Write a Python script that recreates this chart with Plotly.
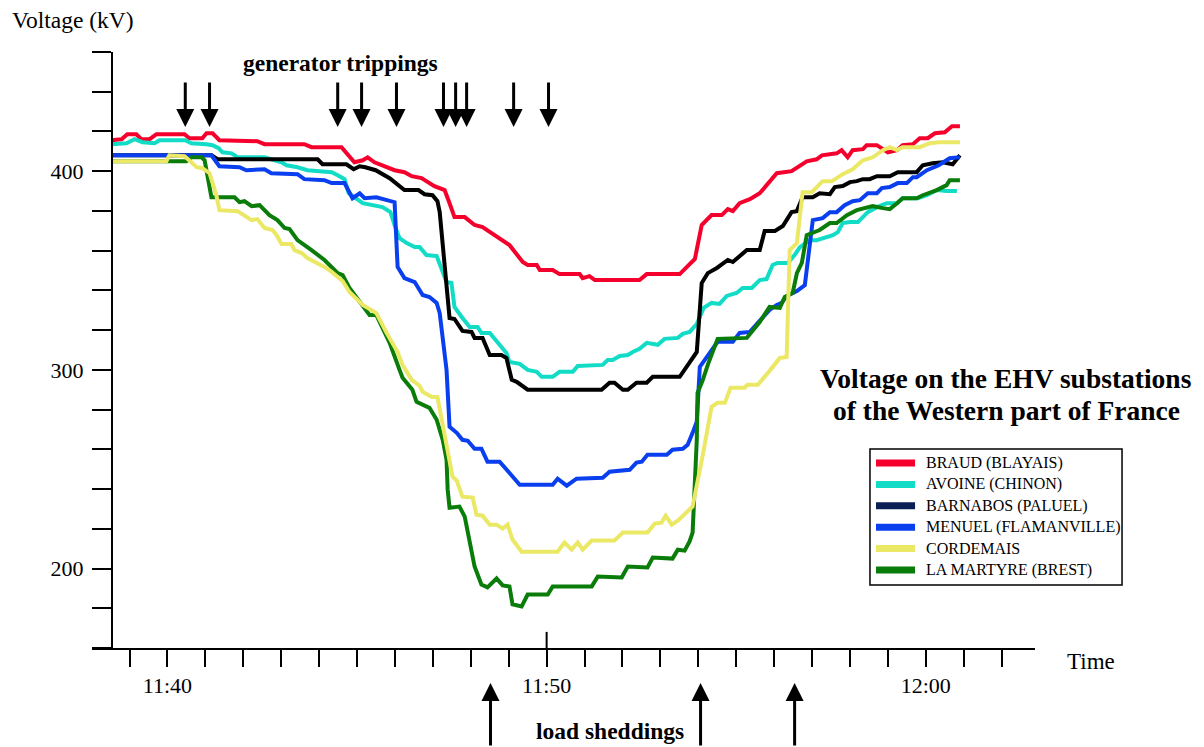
import plotly.graph_objects as go

# time in minutes after 11:40, voltage in kV
t_braud = [-1.48,-1.21,-1.06,-0.82,-0.69,-0.47,-0.29,0.45,0.58,0.92,1.03,1.19,1.37,2.37,2.56,3.61,3.80,4.59,4.93,5.15,5.28,5.46,5.99,6.25,6.44,6.70,7.04,7.31,7.44,7.57,7.84,8.10,8.31,8.76,9.02,9.37,9.50,9.74,9.82,10.16,10.34,10.87,10.95,11.13,11.27,12.45,12.64,13.51,13.91,14.09,14.35,14.62,14.78,14.91,15.09,15.36,15.62,16.07,16.46,16.86,17.12,17.26,17.65,17.78,17.94,18.07,18.34,18.44,18.71,19.00,19.24,19.39,19.66,19.84,20.05,20.24,20.50,20.69,20.90]
v_braud = [415.6,416.1,418.6,418.6,416.1,416.1,418.6,418.6,416.6,416.6,419.1,419.1,415.6,415.1,413.6,413.6,412.1,412.1,404.5,405.5,407.0,404.5,400.5,399.5,397.5,396.5,392.5,390.5,383.9,376.9,376.9,372.9,371.9,365.8,362.8,354.3,352.8,352.8,350.3,350.3,348.2,348.2,346.2,347.2,345.2,345.2,348.2,348.2,355.8,372.9,377.9,377.9,380.9,379.9,383.9,385.9,388.9,399.0,400.0,405.0,406.0,408.0,409.0,410.6,407.0,410.6,411.1,413.1,413.1,409.5,410.6,413.1,413.6,416.6,416.6,419.1,419.6,422.6,422.6]

t_avoine = [-1.48,-1.08,-0.87,-0.66,-0.34,-0.21,0.47,0.63,1.03,1.19,1.35,1.45,1.69,1.85,2.56,3.01,3.14,3.43,3.69,4.33,4.49,4.67,4.78,5.15,5.67,5.88,5.99,6.12,6.31,6.52,6.65,6.83,7.10,7.23,7.36,7.49,7.57,7.76,7.97,8.18,8.28,8.50,8.76,8.94,9.02,9.29,9.50,9.74,9.87,10.16,10.34,10.69,10.82,11.48,11.61,11.74,11.93,12.14,12.27,12.45,12.64,12.93,13.11,13.46,13.59,13.77,13.96,14.14,14.35,14.56,14.75,15.01,15.17,15.41,15.62,15.80,15.96,16.09,16.36,16.54,16.68,16.94,17.12,17.34,17.55,17.68,17.81,18.00,18.21,18.47,18.71,18.97,19.24,19.39,19.79,20.03,20.29,20.55,20.82]
v_avoine = [413.6,414.1,416.1,414.6,414.1,415.6,415.6,414.1,413.6,413.1,411.6,409.5,409.0,407.0,407.0,404.5,403.0,402.0,400.5,399.5,398.0,396.0,388.9,383.9,381.9,379.4,372.9,366.3,363.8,361.8,361.8,357.8,357.3,350.3,344.2,343.7,331.7,326.6,321.6,321.6,318.6,318.6,312.6,308.5,304.0,303.0,300.0,299.0,296.5,296.5,299.0,299.0,302.0,302.5,305.0,305.0,307.0,307.5,309.0,310.6,313.6,312.6,315.6,316.1,318.1,319.1,323.1,331.2,333.7,333.2,337.2,338.7,341.2,341.2,345.2,345.7,352.8,353.8,353.8,357.8,361.8,365.3,365.3,366.8,367.8,369.3,373.9,374.4,374.4,379.4,381.9,383.9,383.9,386.4,386.4,387.9,390.5,390.0,390.0]

t_barnabos = [-1.48,1.16,1.32,3.96,4.09,4.72,4.91,5.07,5.22,5.49,5.86,6.25,6.62,6.78,6.99,7.12,7.18,7.31,7.44,7.57,7.78,8.02,8.10,8.31,8.50,8.81,8.94,9.08,9.21,9.50,11.45,11.66,11.79,12.01,12.14,12.37,12.64,12.80,13.51,13.96,14.09,14.25,14.49,14.78,14.91,15.28,15.62,15.75,16.02,16.23,16.46,16.60,16.75,17.02,17.20,17.47,17.60,17.81,18.00,18.18,18.34,18.52,18.71,19.05,19.26,19.76,19.92,20.18,20.45,20.71,20.90]
v_barnabos = [408.0,408.0,406.0,406.0,403.5,403.5,401.0,402.5,402.0,400.5,396.5,390.5,390.5,388.4,387.9,384.9,379.4,351.8,326.1,325.6,319.6,319.1,316.1,316.1,307.5,307.5,306.0,295.0,294.0,290.0,290.0,293.5,293.5,290.0,290.0,293.5,293.5,296.5,296.5,309.0,343.7,348.7,351.3,355.3,354.3,360.3,360.3,369.9,369.9,372.4,379.4,379.9,386.9,386.9,388.9,388.4,392.0,392.5,394.5,395.0,396.0,396.0,397.5,397.5,399.5,399.5,403.0,404.0,404.5,403.5,408.0]

t_menuel = [-1.48,1.16,1.37,1.90,2.08,2.56,2.74,3.43,3.61,4.14,4.33,4.67,4.88,5.07,5.20,5.51,5.99,6.07,6.25,6.52,6.73,6.91,7.10,7.18,7.36,7.44,7.63,7.78,7.92,8.10,8.28,8.44,8.76,9.02,9.29,10.16,10.29,10.53,10.79,11.48,11.66,12.19,12.37,12.51,12.66,13.17,13.32,13.59,13.72,13.85,13.96,14.04,14.30,14.51,14.91,15.09,15.36,15.62,15.88,16.07,16.20,16.33,16.60,16.81,17.02,17.28,17.47,17.65,17.86,18.07,18.26,18.47,18.71,18.84,19.05,19.26,19.50,19.66,19.76,20.03,20.34,20.63,20.90]
v_menuel = [408.0,408.0,402.5,402.0,400.5,401.0,399.0,398.5,396.0,395.5,394.0,394.0,386.4,388.9,386.4,386.9,384.4,351.8,346.2,344.2,337.7,336.7,333.7,328.6,300.0,271.4,268.3,264.8,264.3,260.3,260.3,253.8,253.8,248.2,242.2,242.2,245.2,241.7,245.2,245.7,248.7,249.7,253.3,253.8,257.3,257.3,259.8,260.3,262.3,268.3,273.9,301.5,308.5,314.1,314.1,318.6,319.1,324.6,330.2,332.7,333.7,337.2,339.7,342.7,375.4,376.4,379.4,379.4,382.9,384.9,385.4,388.9,388.9,391.5,392.0,394.0,394.0,397.0,397.0,400.5,403.0,406.5,407.0]

t_cordemais = [-1.48,-0.03,0.05,0.45,0.63,0.77,0.92,1.11,1.29,1.37,1.85,2.03,2.22,2.37,2.56,2.77,2.88,3.01,3.27,3.35,3.54,3.69,4.14,4.33,4.62,4.80,5.15,5.51,5.78,6.07,6.20,6.44,6.65,6.73,6.97,7.12,7.36,7.52,7.63,7.78,8.05,8.15,8.31,8.50,8.68,8.84,8.97,9.10,9.34,10.29,10.47,10.66,10.82,10.95,11.19,11.79,12.01,12.66,12.85,13.03,13.14,13.30,13.46,13.59,13.77,13.85,14.12,14.35,14.51,14.70,14.85,15.22,15.30,15.57,15.88,16.15,16.33,16.41,16.60,16.75,16.99,17.28,17.52,17.81,18.07,18.34,18.60,18.87,19.05,19.24,19.39,19.84,20.11,20.34,20.90]
v_cordemais = [405.0,405.0,408.0,407.5,404.5,402.0,401.5,399.0,387.9,380.4,379.9,377.9,375.4,375.9,371.4,370.4,367.8,363.3,363.3,360.3,358.8,356.3,351.8,349.3,344.7,339.2,332.7,328.6,318.6,309.0,302.5,295.0,292.0,289.0,286.4,286.4,263.3,246.2,244.2,236.2,235.7,227.1,226.6,222.1,222.1,220.1,222.1,214.6,208.5,208.5,213.1,209.5,213.1,209.5,214.1,214.1,218.1,218.1,222.6,223.1,226.6,222.1,224.1,226.6,229.7,231.2,257.3,281.4,283.4,283.4,291.0,291.0,292.5,292.5,299.5,306.0,306.5,360.3,363.8,389.4,389.4,395.0,395.0,398.5,401.0,405.5,407.0,410.6,412.1,410.6,412.1,412.1,414.1,414.6,414.6]

t_martyre = [-1.48,0.50,0.63,0.90,0.98,1.06,1.16,1.77,1.90,2.03,2.22,2.43,2.69,2.90,3.09,3.22,3.43,3.80,4.14,4.49,4.62,4.80,5.25,5.33,5.51,5.86,6.12,6.20,6.46,6.57,6.91,7.10,7.26,7.36,7.39,7.44,7.70,7.84,8.10,8.28,8.44,8.68,8.84,9.02,9.10,9.34,9.50,10.03,10.16,11.19,11.35,11.98,12.14,12.66,12.80,13.32,13.46,13.64,13.77,13.85,13.96,13.98,14.12,14.25,14.51,15.28,15.62,15.88,16.15,16.28,16.49,16.60,16.73,16.86,17.20,17.47,17.65,17.92,18.18,18.44,18.60,18.87,19.05,19.24,19.39,19.76,19.92,20.29,20.55,20.63,20.90]
v_martyre = [405.0,405.0,407.0,407.0,405.5,398.0,386.9,386.9,384.4,384.9,382.4,382.9,377.9,375.4,371.4,370.9,365.3,360.3,355.3,348.7,347.7,341.2,330.2,327.6,327.6,313.6,300.0,296.0,290.0,283.9,280.9,274.9,264.8,254.8,239.7,230.6,231.2,226.1,201.0,192.0,190.5,195.0,191.5,191.0,182.0,180.9,186.9,186.9,191.0,191.0,196.0,195.5,201.0,200.5,205.5,205.0,209.5,209.0,213.6,218.1,264.8,288.4,295.0,302.5,315.6,316.1,324.1,331.7,331.2,336.7,338.7,348.7,353.8,367.8,370.4,373.9,373.9,377.9,380.4,381.4,382.4,381.4,380.9,383.9,386.4,386.4,387.9,390.5,393.0,395.5,395.5]

series_names = ["BRAUD (BLAYAIS)", "AVOINE (CHINON)", "BARNABOS (PALUEL)",
                "MENUEL (FLAMANVILLE)", "CORDEMAIS", "LA MARTYRE (BREST)"]
line_colors = ["#f5002d", "#12dcc6", "#000000", "#0a3ff0", "#ebe865", "#0a7c0a"]
legend_colors = ["#f5002d", "#12dcc6", "#0b1e55", "#0a3ff0", "#ebe865", "#0a7c0a"]
series_t = [t_braud, t_avoine, t_barnabos, t_menuel, t_cordemais, t_martyre]
series_v = [v_braud, v_avoine, v_barnabos, v_menuel, v_cordemais, v_martyre]

generator_trippings = [0.47, 1.11, 4.49, 5.12, 6.04, 7.28, 7.60, 7.89, 9.13, 10.05]
load_sheddings = [8.52, 14.06, 16.54]

x_tick_minutes = list(range(-1, 23))
x_tick_labels = {0: "11:40", 10: "11:50", 20: "12:00"}
y_tick_values = list(range(160, 461, 20))
y_tick_labels = [200, 300, 400]

FONT = "Liberation Serif, Times New Roman, serif"

fig = go.Figure()
draw_order = [0, 1, 2, 3, 5, 4]
for i in draw_order:
    fig.add_trace(go.Scatter(x=series_t[i], y=series_v[i], mode="lines",
                             line=dict(color=line_colors[i], width=4),
                             name=series_names[i], showlegend=False, hoverinfo="skip"))

annotations = []
for t in generator_trippings:
    annotations.append(dict(x=t, y=0.8742, xref="x", yref="paper", text="",
                            showarrow=True, ax=0, ay=-46, arrowhead=2,
                            arrowwidth=3, arrowsize=1.2, arrowcolor="black"))
for t in load_sheddings:
    annotations.append(dict(x=t, y=-0.0587, xref="x", yref="paper", text="",
                            showarrow=True, ax=0, ay=72, arrowhead=2,
                            arrowwidth=3, arrowsize=1.2, arrowcolor="black"))

annotations += [
    dict(text="Voltage (kV)", x=-0.087, y=1.0537, xref="paper", yref="paper",
         xanchor="left", yanchor="middle", showarrow=False,
         font=dict(family=FONT, size=23.5, color="black")),
    dict(text="Time", x=1.0318, y=-0.022, xref="paper", yref="paper",
         xanchor="left", yanchor="middle", showarrow=False,
         font=dict(family=FONT, size=23, color="black")),
    dict(text="<b>generator trippings</b>", x=0.263, y=0.9815, xref="paper", yref="paper",
         xanchor="center", yanchor="middle", showarrow=False,
         font=dict(family=FONT, size=23.5, color="black")),
    dict(text="<b>load sheddings</b>", x=0.5493, y=-0.139, xref="paper", yref="paper",
         xanchor="center", yanchor="middle", showarrow=False,
         font=dict(family=FONT, size=23.5, color="black")),
    dict(text="<b>Voltage on the EHV substations</b>", x=0.9692, y=0.452, xref="paper", yref="paper",
         xanchor="center", yanchor="middle", showarrow=False,
         font=dict(family=FONT, size=27.5, color="black")),
    dict(text="<b>of the Western part of France</b>", x=0.9703, y=0.398, xref="paper", yref="paper",
         xanchor="center", yanchor="middle", showarrow=False,
         font=dict(family=FONT, size=27.5, color="black")),
]

shapes = [dict(type="line", x0=10, x1=10, xref="x", y0=0, y1=0.027, yref="paper",
               line=dict(color="black", width=2))]

# legend box drawn in paper coordinates
LEG_X0, LEG_X1, LEG_Y0, LEG_Y1 = 0.8250, 1.0923, 0.1057, 0.3339
ROW0, ROW_STEP = 0.3104, 0.0359
shapes.append(dict(type="rect", xref="paper", yref="paper", x0=LEG_X0, x1=LEG_X1,
                   y0=LEG_Y0, y1=LEG_Y1, line=dict(color="black", width=1.5),
                   fillcolor="white", layer="above"))
for i, name in enumerate(series_names):
    yy = ROW0 - i * ROW_STEP
    shapes.append(dict(type="line", xref="paper", yref="paper", x0=0.8314, x1=0.8728,
                       y0=yy, y1=yy, line=dict(color=legend_colors[i], width=7),
                       layer="above"))
    annotations.append(dict(text=name, x=0.8823, y=yy, xref="paper", yref="paper",
                            xanchor="left", yanchor="middle", showarrow=False,
                            font=dict(family=FONT, size=16, color="black")))

fig.update_layout(
    width=1196, height=739,
    margin=dict(l=84, r=169, t=44, b=99, pad=0),
    paper_bgcolor="white", plot_bgcolor="white",
    font=dict(family=FONT, color="black"),
    showlegend=False,
    annotations=annotations,
    shapes=shapes,
    xaxis=dict(range=[-1.99, 22.88], showgrid=False, zeroline=False,
               showline=True, linecolor="black", linewidth=2,
               tickmode="array", tickvals=x_tick_minutes,
               ticktext=[x_tick_labels.get(m, "") for m in x_tick_minutes],
               ticks="outside", ticklen=17, tickwidth=2, tickcolor="black",
               tickfont=dict(family=FONT, size=22, color="black")),
    yaxis=dict(range=[160, 460], showgrid=False, zeroline=False,
               anchor="free", position=0.0212,
               showline=True, linecolor="black", linewidth=2,
               tickmode="array", tickvals=y_tick_values,
               ticktext=[str(v) if v in y_tick_labels else "" for v in y_tick_values],
               ticks="outside", ticklen=19, tickwidth=2, tickcolor="black",
               ticklabelstandoff=4,
               tickfont=dict(family=FONT, size=22, color="black")),
)

fig.write_html("out.html")
